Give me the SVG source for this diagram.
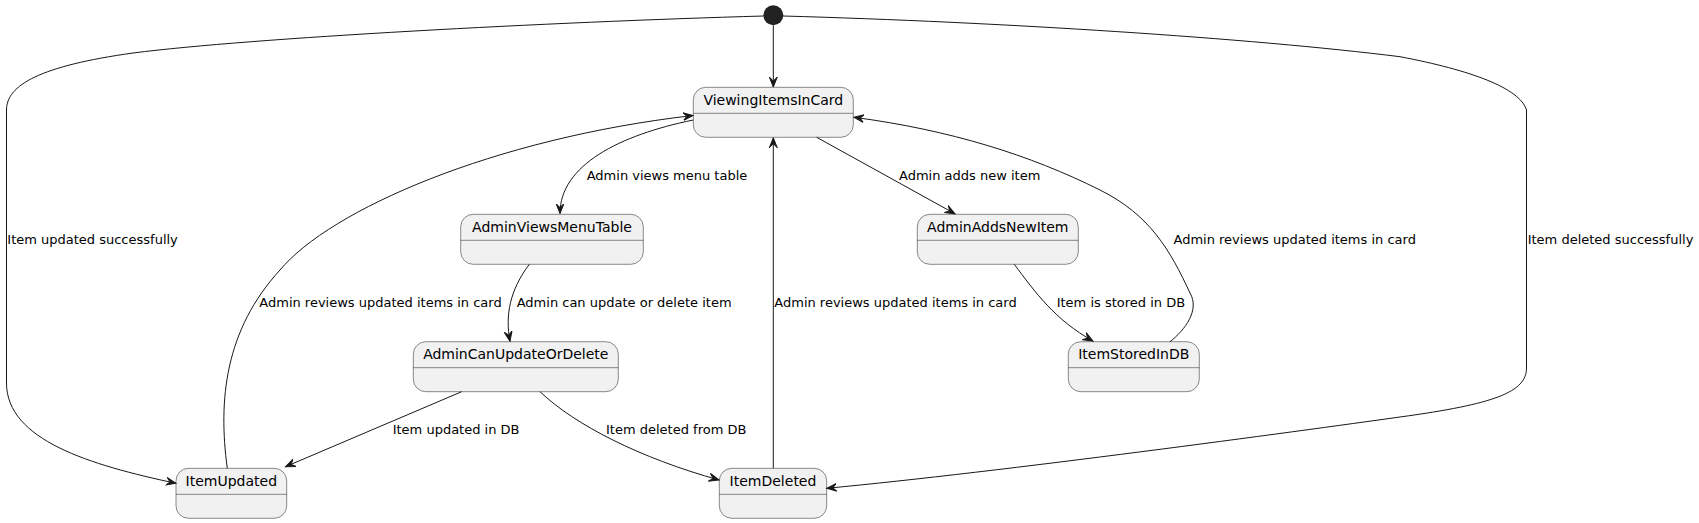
<svg xmlns="http://www.w3.org/2000/svg" width="1699" height="523" viewBox="0 0 1699 523">
<style>
.st rect{fill:#F1F1F1;stroke:#181818;stroke-width:0.5}
.st line{stroke:#181818;stroke-width:0.5}
.st text{font-family:"DejaVu Sans",sans-serif;font-size:14px;fill:#000;text-anchor:middle}
.edges path{fill:none;stroke:#181818;stroke-width:1;marker-end:url(#arr)}
.edges path.nm{marker-end:none}
.lbl text{font-family:"DejaVu Sans",sans-serif;font-size:13px;fill:#000}
</style>
<defs>
<marker id="arr" markerUnits="userSpaceOnUse" markerWidth="12" markerHeight="12" viewBox="-10 -6 12 12" refX="0" refY="0" orient="auto">
<path d="M0,0 L-10,-4 L-6,0 L-10,4 Z" fill="#181818" stroke="#181818" stroke-width="1"/>
</marker>
</defs>
<rect width="1699" height="523" fill="#FFFFFF"/>
<g id="start"><circle cx="773.3" cy="15.3" r="10" fill="#222222"/></g>
<g id="ViewingItemsInCard" class="st"><rect x="693.3" y="87.3" width="160" height="50" rx="12.5"/><line x1="693.3" y1="113.3" x2="853.3" y2="113.3"/><text x="773.3" y="104.8">ViewingItemsInCard</text></g>
<g id="AdminViewsMenuTable" class="st"><rect x="460.7" y="214.3" width="182.6" height="50" rx="12.5"/><line x1="460.7" y1="240.3" x2="643.3" y2="240.3"/><text x="552" y="231.8">AdminViewsMenuTable</text></g>
<g id="AdminCanUpdateOrDelete" class="st"><rect x="413.3" y="341.7" width="205" height="50" rx="12.5"/><line x1="413.3" y1="367.7" x2="618.3" y2="367.7"/><text x="515.8" y="359.2">AdminCanUpdateOrDelete</text></g>
<g id="AdminAddsNewItem" class="st"><rect x="917.3" y="214.3" width="161" height="50" rx="12.5"/><line x1="917.3" y1="240.3" x2="1078.3" y2="240.3"/><text x="997.8" y="231.8">AdminAddsNewItem</text></g>
<g id="ItemStoredInDB" class="st"><rect x="1068.3" y="341.7" width="131" height="50" rx="12.5"/><line x1="1068.3" y1="367.7" x2="1199.3" y2="367.7"/><text x="1133.8" y="359.2">ItemStoredInDB</text></g>
<g id="ItemUpdated" class="st"><rect x="176" y="468.3" width="110.7" height="50" rx="12.5"/><line x1="176" y1="494.3" x2="286.7" y2="494.3"/><text x="231.3" y="485.8">ItemUpdated</text></g>
<g id="ItemDeleted" class="st"><rect x="719.3" y="468.3" width="107.4" height="50" rx="12.5"/><line x1="719.3" y1="494.3" x2="826.7" y2="494.3"/><text x="773" y="485.8">ItemDeleted</text></g>
<g id="connectors" class="edges">
<path d="M773.3,25.3 L773.3,87"/>
<path d="M763.5,16 C550,22 250,38 133,53 C40,66 6.5,85 6.5,110 L6.5,383 C6.5,440 90,465 176,483.3"/>
<path d="M783,16 C1000,22 1250,38 1400,56.7 C1470,70 1520,88 1526.5,110 L1526.5,368 C1526.5,392 1495,404 1400,417 C1300,431 1000,472 826.7,488.3"/>
<path d="M227.3,468.3 C218,400 225,330 280,270 C330,210 493,138.5 693,115.5"/>
<path d="M693.3,120 C620,135 560,165 560,213.5"/>
<path d="M529.3,264.3 C510,290 505,315 510,341.2"/>
<path d="M461.7,391.7 L285.5,466.7"/>
<path d="M540,391.7 C575,425 640,458 719,480"/>
<path d="M773.3,468.3 L773.3,137.8"/>
<path d="M816.7,137.3 L955,213.8"/>
<path d="M1014.3,264.3 C1035,292 1055,320 1093,341"/>
<path d="M1170,341.7 C1185,330 1200,310 1190,293 C1170,250 1150,215 1100,190 C1030,155 950,130 854,117.3"/>
</g>
<g id="labels" class="lbl">
<text x="586.7" y="180">Admin views menu table</text>
<text x="899" y="180">Admin adds new item</text>
<text x="7.3" y="243.5">Item updated successfully</text>
<text x="1527.7" y="243.5">Item deleted successfully</text>
<text x="1173.5" y="243.5">Admin reviews updated items in card</text>
<text x="259.3" y="306.7">Admin reviews updated items in card</text>
<text x="516.7" y="306.7">Admin can update or delete item</text>
<text x="774.3" y="306.7">Admin reviews updated items in card</text>
<text x="1056.7" y="306.7">Item is stored in DB</text>
<text x="392.7" y="434">Item updated in DB</text>
<text x="606" y="434">Item deleted from DB</text>
</g>
</svg>
